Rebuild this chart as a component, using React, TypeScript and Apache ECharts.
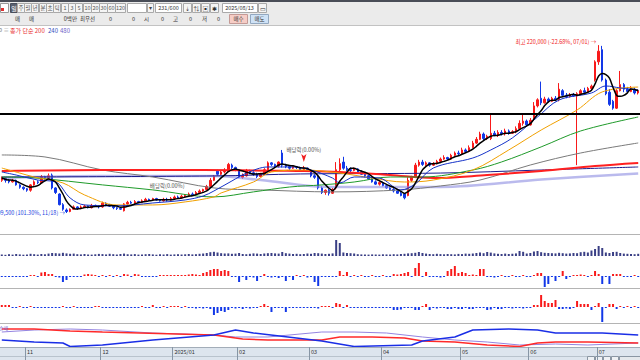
import React, { useEffect, useRef } from "react";
import * as echarts from "echarts";

const FONT = '"Noto Sans CJK KR", "Noto Sans", sans-serif';

// [open, close, low, high] in thousand won
const candles: number[][] = [
  [131,132.5,130,133.5],[132.5,131,129.5,133],[131,130,129,132],[130,131,129.5,132],[131,128,127.5,131.5],
  [128,126.5,125.5,128.5],[126.5,125.5,124.5,127],[125.5,124.5,123.5,126],[124.5,128,123.5,128.5],[128,130,127.5,131],
  [130,129.5,128.5,131],[129.5,133.5,129,134.5],[133.5,132.5,131.5,134],[132.5,134,132,135.5],[134.5,126,125,135.5],
  [126,123,122,126.5],[122,115,114.5,122.5],[115,112,111,116],[111.5,110.5,109.5,112.5],[110.5,112,110,112.5],
  [112,113.5,111.5,114.5],[113.5,112.5,111.5,114],[112.5,113.5,112,114.5],[113.5,114,113,115],[114,113,112.5,114.5],
  [113,114.5,112.5,115.5],[114.5,114,113.5,115],[114,113.5,112.5,114.5],[113.5,116,113,117],[116,115,114,116.5],
  [115,114,113.5,115.5],[114,113,112,114.5],[113,112.5,111.5,113.5],[112.5,112,111.5,113],[111,115.5,110.5,116],
  [115.5,116.5,115,117.5],[116.5,116,115.5,117.5],[116,117,115.5,118],[117,116.5,116,117.5],[116.5,117.5,116,118.5],
  [117.5,118.5,117,119.5],[118.5,118,117.5,119],[118,119,117.5,119.5],[119,118,117.5,119.5],[118,117.5,117,118.5],
  [117.5,118.5,117,119.5],[118.5,118,117,119.5],[118,119,117.5,120],[119,120,118.5,121],[120,119.5,119,121],
  [119.5,120.5,119,121.5],[120.5,121,119.5,122],[121,122,120.5,123],[122,121.5,121,123],[121.5,123,121,124],
  [123,124,122.5,125],[124,125,123.5,125.5],[125,127,124.5,128],[127,131,126.5,132.5],[131,133.5,130.5,134.5],
  [137,135,134,138],[135,136.5,134.5,137.5],[136.5,137,135.5,139],[137,141.5,136.5,142.5],[141,139.5,138.5,142],
  [139.5,138,137,140],[138,133,132.5,138.5],[133,134,132,135.5],[134,137.5,133.5,138.5],[137.5,136,135,138],
  [136,135,134,137],[135,133.5,132.5,136],[133.5,135,133,136],[135,138,134.5,139],[138,142.5,137.5,143.5],
  [142.5,141.5,140.5,143],[141.5,140.5,139.5,142],[140.5,143,139.5,143.5],[149,141,139.5,151],[141,140,139,142],
  [140,139,138,141],[139,140,138.5,141],[140,139.5,138.5,140.5],[139.5,138,137,140],[138,139,137.5,140.5],
  [139,137,136.5,139.5],[137,134,133,137.5],[134,133,132,135],[133,126,125,134],[126,123,122,127],
  [123,124.5,121.5,125],[124.5,122.5,121,125.5],[122.5,125,122,126],[126,138,125,143],[138,142,137,145.5],
  [143,139,138,146.5],[139,138,137,140.5],[138,137.5,136.5,139.5],[137.5,138.5,137,139.5],[138.5,136.5,136,139],
  [136.5,135,134.5,137.5],[135,134,133,136],[134,132,131.5,134.5],[132,130,129.5,132.5],[130,128.5,128,131],
  [128.5,129.5,127.5,130.5],[129.5,127.5,127,130],[127.5,126,125.5,128.5],[126,125,124.5,127],[125,124,123,126],
  [124,122.5,122,125],[122.5,121,120.5,123.5],[122,119.5,118.5,122.5],[121,131,120.5,133],[131,133,130,134],
  [133,141,132.5,142.5],[141,143,140,144.5],[143,141.5,140.5,144.5],[141.5,142.5,140.5,143.5],[142.5,141,140,143],
  [141,142,140.5,143],[142,143.5,141.5,144.5],[143.5,145,143,146],[145,146,144.5,147.5],[146,145,144,146.5],
  [145,147.5,144.5,148.5],[147.5,149,147,150],[149,148.5,147.5,150.5],[148.5,151,148,152.5],[151,150,149,152],
  [150,152.5,149.5,154],[152.5,155.5,152,157],[155.5,158,155,159.5],[158,161.5,157.5,163],[161.5,158.5,157.5,162.5],
  [158.5,160,157.5,161],[158.5,162,157.5,175],[162,160.5,160,163.5],[160.5,162.5,159.5,164],[162.5,161.5,160.5,164],
  [161.5,163.5,160.5,165],[163.5,162,161,164.5],[162,163,161.5,164],[163,165,162,166.5],[165,168.5,164.5,170.5],
  [168.5,170,167,174.5],[170,167.5,166.5,171],[167.5,170.5,167,172],[171,180,170.5,182.5],[180,184,179,185],
  [185,182,180.5,196],[182,184.5,181.5,186],[184.5,183,182,185.5],[183,185,182.5,186],[185,184,183,186.5],
  [184,191,183,195],[190,187,186,191],[187,186,185,188.5],[186,187.5,185.5,188.5],[187.5,186.5,186,188.5],
  [186.5,188,141,189],[188,190,187,191],[190,189,188,192],[189,191.5,188.5,192.5],[191.5,193,190.5,194],
  [197,209,196,210],[209,216,207,220],[217,197,196,219.5],[197,188,187,198],[189,181,180,191],
  [183,178.5,177.5,184],[178.5,190,178,191],[190,194,189.5,203],[194,191,189,195],[191,189.5,188.5,192.5],
  [189.5,191,189,193],[191,188.5,187.5,192],[188.5,190,187.5,191]
];

const volume: number[] = [
  15,12,18,14,20,16,13,15,22,18,14,20,17,24,
  30,28,25,32,26,22,24,
  18,16,20,15,14,17,21,19,16,22,18,15,20,24,17,16,19,14,15,18,20,16,13,17,15,19,14,16,18,15,17,20,16,18,22,25,
  30,38,42,35,28,25,
  26,22,24,30,20,18,22,26,24,20,25,28,30,26,24,
  40,
  28,24,20,22,18,20,25,22,30,28,24,20,22,26,
  160,130,35,30,28,25,
  18,16,15,14,16,15,14,17,16,15,18,16,20,22,
  26,28,32,40,30,24,
  20,18,22,19,17,20,18,16,21,19,24,22,25,
  30,36,28,40,34,26,
  22,20,24,20,22,26,
  50,42,25,30,45,50,38,32,
  30,28,26,32,28,24,26,30,28,
  38,42,35,
  55,70,100,80,35,30,40,42,30,24,22,20,18,22
];

const flowA: number[] = [
  -10,-10,-10,-10,-10,-10,-10,-10,10,10,
  -10,35,40,20,20,-10,-15,-60,-40,-10,
  -10,-10,-10,15,20,15,10,-10,10,-10,
  10,-10,10,-10,20,15,-10,20,15,-10,
  -10,-10,-10,-10,10,10,10,10,10,10,
  10,10,15,20,15,10,30,40,60,70,
  70,50,60,50,-10,-10,-60,-10,-40,-10,
  -15,-50,-10,20,-10,-15,-10,-20,-10,-50,
  -10,-40,10,-10,10,-15,-10,-60,-100,-10,
  -10,-10,-10,-10,50,10,40,-10,10,-10,
  10,-10,-10,10,-10,-10,10,-10,-10,20,
  15,20,30,40,-10,80,130,-10,40,-10,
  -10,-10,-15,-10,50,70,100,30,40,30,
  10,15,10,70,70,-10,-10,-15,-10,10,
  -10,-10,10,-10,-10,10,-10,-10,10,30,
  30,-110,-80,-10,-50,-10,50,-30,-10,10,
  10,15,10,-10,10,50,20,-80,-10,-80,
  20,20,20,-10,-10,-10,10,-10
];

const flowB: number[] = [
  20,20,20,-10,-10,10,-10,-10,10,-10,
  -10,-10,-10,-10,-10,-10,-10,10,-10,-10,
  10,-10,-10,-10,-10,-10,10,10,-10,-10,
  -10,-10,-10,-10,-10,-10,-10,-10,-10,10,
  -10,-10,20,-10,-10,10,-10,10,10,10,
  -10,10,-10,-10,-15,-10,-15,-10,-20,-80,
  -60,-40,-50,-30,-10,-15,-10,-20,-10,-15,
  -10,-10,10,30,10,-50,-10,-10,-10,-50,
  -10,-10,-10,-10,-10,-10,-10,-10,-15,10,
  10,10,-10,40,30,-10,20,-10,-10,-10,
  -10,-10,-10,-10,-10,-10,-10,-10,-10,-30,
  -30,-25,-10,-10,-10,-30,-30,10,30,-30,
  -10,-15,-10,-10,-20,-20,-10,-20,-20,-10,
  -20,-20,-10,-10,-10,-30,-25,-10,-20,-20,
  -10,-10,-15,-10,-10,-15,-10,-10,20,20,
  120,60,40,40,70,-20,-20,-15,-20,-10,
  60,30,30,30,-30,10,40,-150,-10,30,
  30,-20,10,-10,10,-10,10,-10
];

// moving-average lines: [bar index, price]
const ma20: number[][] = [[0,136.5],[4,134.5],[10,131.2],[15,129.9],[19,119.4],[23,114.8],[32,114.2],[42,116.1],[51,118.1],[56,120.7],[59,124],[64,130.6],[68,135.7],[74,139.8],[81,139.8],[86,137.8],[92,132.5],[94,129.3],[98,133.2],[105,132.5],[111,124.7],[115,128.6],[120,139.1],[131,145.7],[136,151],[142,158.9],[149,172.7],[155,183.9],[164,188.5],[168,193.1],[172,191.8],[177,190.5]];
const ma60: number[][] = [[0,139.1],[5,135.8],[9,133.2],[17,129.3],[23,121.4],[32,114.8],[42,114.8],[51,116.8],[59,120.1],[61,122.7],[70,129.9],[75,136.5],[84,137.8],[94,135.8],[103,132.5],[112,129.9],[120,131.2],[131,137.8],[141,151],[150,164.1],[160,177.3],[167,189.2],[177,192.4]];
const ma120: number[][] = [[0,133.2],[9,132.6],[28,128],[42,124.7],[59,120.1],[70,123.4],[80,126.6],[89,128],[98,129.9],[108,133.2],[117,133.2],[131,137.8],[139,143.1],[150,153],[161,163.5],[177,172.7]];
const maGrey: number[][] = [[0,147.7],[12,146.4],[28,137.8],[42,133.2],[59,126],[72,124.7],[92,123.4],[111,124.7],[122,127.3],[133,131.2],[147,141.1],[161,149],[177,155.6]];
const ma200: number[][] = [[0,137.1],[28,137.8],[56,137.8],[84,137.1],[94,136.5],[108,134.5],[120,132.5],[135,134.5],[150,137.1],[165,140.4],[177,142.4]];
const ma240: number[][] = [[0,133.2],[59,133.9],[83,135.2],[122,135.8],[150,137.8],[177,139.8]];
const ma480: number[][] = [[0,132.6],[28,133.9],[59,133.9],[72,131.2],[91,126.6],[122,126.6],[150,131.5],[177,135.5]];

// bottom oscillator panel: [bar index, value 0..100]
const oscRed: number[][] = [[0,75],[9,75],[19,66.7],[28,62.5],[59,50],[67,33.3],[74,29.2],[89,29.2],[94,41.7],[103,41.7],[112,37.5],[117,25],[126,20.8],[135,8.3],[144,2],[149,16.7],[154,20.8],[163,20.8],[177,16.7]];
const oscBlue: number[][] = [[0,29.2],[9,20.8],[17,16.7],[19,2],[28,8.3],[42,29.2],[59,50],[65,70.8],[70,58.3],[89,25],[98,2],[114,8.3],[117,25],[126,41.7],[131,70.8],[141,75],[149,70.8],[154,58.3],[167,58.3],[177,50]];
const oscPurple: number[][] = [[0,62.5],[9,70.8],[19,75],[28,70.8],[42,58.3],[59,50],[65,41.7],[74,41.7],[89,62.5],[98,62.5],[107,58.3],[117,41.7],[126,29.2],[135,20.8],[144,8.3],[154,12.5],[163,8.3],[177,16.7]];

const monthStarts = [7, 28, 48, 66, 86, 106, 128, 147, 166];
const monthLabels = ["11", "12", "2025/01", "02", "03", "04", "05", "06", "07"];

const highMark = { idx: 166, price: 220, text: "최고 220,000 (-22.68%, 07/01) →" };
const lowMark = { idx: 18, price: 109.5, text: "최저 109,500 (101.30%, 11/18) →" };
const dividendMarks = [
  { idx: 46, price: 124.7, text: "배당락(0.00%)", arrow: false },
  { idx: 84, price: 143.1, text: "배당락(0.00%)", arrow: true },
];
const refLevel = 175;

const UP = "#f81a1a";
const DOWN = "#1238e8";

function txt(x: number, y: number, text: string, fill: string, size = 6, align = "left") {
  return {
    type: "text", x, y, silent: true, z: 20,
    style: { text, fill, font: `${size}px ${FONT}`, align, verticalAlign: "middle" },
  };
}
function box(x: number, y: number, w: number, h: number, fill: string, stroke: string) {
  return {
    type: "rect", silent: true, z: 19,
    shape: { x: x + 0.5, y: y + 0.5, width: w, height: h },
    style: { fill, stroke, lineWidth: 1 },
  };
}
function hline(y: number, color: string, x1 = 0, x2 = 640) {
  return { type: "line", silent: true, z: 18, shape: { x1, y1: y, x2, y2: y }, style: { stroke: color, lineWidth: 1 } };
}

export default function App() {
  const ref = useRef<HTMLDivElement>(null);
  useEffect(() => {
    const chart = echarts.init(ref.current!, null, { renderer: "svg" });
    const cats = candles.map((_, i) => String(i));
    const closes = candles.map((c) => c[1]);
    const ma5 = closes.map((_, i) => {
      const s = closes.slice(Math.max(0, i - 4), i + 1);
      return +(s.reduce((a, b) => a + b, 0) / s.length).toFixed(2);
    });
    const labelMap: Record<number, string> = {};
    monthStarts.forEach((m, k) => (labelMap[m] = monthLabels[k]));
    const isMonth = (i: number) => monthStarts.includes(i);

    const grids = [
      { top: 36, height: 196 },
      { top: 236, height: 20 },
      { top: 258, height: 30 },
      { top: 288, height: 35 },
      { top: 323, height: 24 },
    ].map((g) => ({ left: 0, width: 643, ...g }));

    const xAxes = grids.map((_, i) => ({
      type: "category", gridIndex: i, data: cats, boundaryGap: true,
      show: i === 4, z: 25,
      axisLine: { show: i === 4, lineStyle: { color: "#a3adb8" } },
      axisTick: { show: i === 4, interval: (idx: number) => isMonth(idx), length: 13, lineStyle: { color: "#8796a6" } },
      axisLabel: {
        show: i === 4, interval: (idx: number) => isMonth(idx),
        formatter: (_v: string, idx: number) => labelMap[idx] ?? "",
        fontSize: 5.5, fontFamily: FONT, color: "#333", align: "left", margin: 2,
        hideOverlap: false,
      },
      splitLine: { show: false },
    }));
    const yRanges = [[97, 226], [0, 200], [-120, 180], [-160, 190], [0, 100]];
    const yAxes = yRanges.map((r, i) => ({
      type: "value", gridIndex: i, min: r[0], max: r[1], show: false, splitLine: { show: false },
    }));

    const line = (data: number[][] | number[], color: string, width: number, extra: any = {}) => ({
      type: "line", xAxisIndex: 0, yAxisIndex: 0, data, symbol: "none", smooth: 0.35,
      lineStyle: { color, width }, silent: true, ...extra,
    });
    const osc = (data: number[][], color: string, width: number) => ({
      type: "line", xAxisIndex: 4, yAxisIndex: 4, data, symbol: "none", smooth: false,
      lineStyle: { color, width }, silent: true,
    });
    const signColor = (p: any) => (p.value >= 0 ? UP : DOWN);

    const markData: any[] = [
      {
        coord: [highMark.idx, highMark.price], symbol: "circle", symbolSize: 1,
        itemStyle: { color: "rgba(0,0,0,0)" },
        label: { show: true, position: "left", distance: 2, offset: [0, -3], formatter: highMark.text, color: "#f02424", fontSize: 5.5, fontFamily: FONT },
      },
      {
        coord: [lowMark.idx, lowMark.price], symbol: "circle", symbolSize: 1,
        itemStyle: { color: "rgba(0,0,0,0)" },
        label: { show: true, position: "left", distance: 1, formatter: lowMark.text, color: "#2040e0", fontSize: 5.5, fontFamily: FONT },
      },
      ...dividendMarks.map((d) => ({
        coord: [d.idx, d.price],
        symbol: d.arrow ? "arrow" : "circle", symbolRotate: d.arrow ? 180 : 0,
        symbolSize: d.arrow ? [4, 8] : 1,
        itemStyle: { color: d.arrow ? "#f02020" : "rgba(0,0,0,0)" },
        label: { show: true, position: "top", distance: 1, formatter: d.text, color: "#555", fontSize: 5.5, fontFamily: FONT },
      })),
    ];

    const series: any[] = [
      line(ma480, "rgba(140,140,225,0.6)", 2.5),
      line(ma240, "#1c1c8c", 1),
      line(maGrey, "#7a7a7a", 1),
      line(ma200, "#ff2020", 2),
      line(ma120, "#1f9a2a", 1),
      line(ma60, "#f0a000", 1),
      {
        type: "candlestick", xAxisIndex: 0, yAxisIndex: 0, data: candles, barWidth: 2,
        itemStyle: { color: UP, color0: DOWN, borderColor: UP, borderColor0: DOWN, borderWidth: 1 },
        markLine: {
          symbol: "none", silent: true, label: { show: false },
          lineStyle: { color: "#000", width: 2, type: "solid" }, data: [{ yAxis: refLevel }],
        },
        markPoint: { silent: true, data: markData },
      },
      line(ma20, "#1532c8", 1),
      line(ma5.map((v, i) => [i, v]), "#000", 1.5, { smooth: 0.3 }),
      { type: "bar", xAxisIndex: 1, yAxisIndex: 1, data: volume, barWidth: 2, itemStyle: { color: "#3a3f85" }, silent: true },
      { type: "bar", xAxisIndex: 2, yAxisIndex: 2, data: flowA, barWidth: 2, itemStyle: { color: signColor }, silent: true },
      { type: "bar", xAxisIndex: 3, yAxisIndex: 3, data: flowB, barWidth: 2, itemStyle: { color: signColor }, silent: true },
      osc(oscPurple, "#9484e0", 1),
      osc(oscRed, "#ff2a2a", 1.5),
      osc(oscBlue, "#1a2ee6", 1.5),
    ];

    // toolbar / frame decorations
    const g: any[] = [];
    g.push({ type: "rect", silent: true, z: 1, shape: { x: 0, y: 347, width: 640, height: 13 }, style: { fill: "#dde5ee" } });
    g.push(hline(356.5, "#b9c3cd"));
    [587, 595, 603, 611].forEach((x) => g.push(box(x, 356, 7, 4, "#eef1f4", "#8a96a3")));
    g.push(box(619, 356, 24, 4, "#e4e8ec", "#8a96a3"));
    g.push(hline(234.5, "#b4b4b4"));
    g.push(hline(288.5, "#b4b4b4"));
    g.push(hline(323.5, "#b4b4b4"));
    g.push({ type: "rect", silent: true, z: 17, shape: { x: 0, y: 0, width: 640, height: 2 }, style: { fill: "#494d57" } });
    g.push({ type: "rect", silent: true, z: 17, shape: { x: 0, y: 2, width: 640, height: 23 }, style: { fill: "#ebebeb" } });
    g.push(hline(25.5, "#c2c2c2"));
    // row 1
    g.push(box(0, 3, 8, 9, "#fff", "#999"));
    g.push({ type: "rect", silent: true, z: 20, shape: { x: 1, y: 8, width: 3, height: 3 }, style: { fill: "#e03030" } });
    const row1: [number, number, string][] = [
      [17, 7, "주"], [24, 7, "월"], [31, 7, "년"], [39, 7, "분"], [46, 7, "초"], [53, 7, "틱"],
      [61, 7, "1"], [68, 7, "3"], [75, 7, "5"], [83, 8, "10"], [91, 8, "20"], [99, 8, "30"], [107, 8, "60"], [115, 10, "120"],
    ];
    g.push(box(10, 3, 7, 9, "#5b6170", "#4a4f5c"));
    g.push(txt(14, 8, "일", "#fff", 6, "center"));
    row1.forEach(([x, w, s]) => {
      g.push(box(x, 3, w, 9, "#f5f5f5", "#a9a9a9"));
      g.push(txt(x + w / 2 + 0.5, 8, s, "#555", 5.5, "center"));
    });
    g.push(box(127, 3, 19, 9, "#fff", "#a9a9a9"));
    g.push(box(147, 3, 6, 9, "#f5f5f5", "#a9a9a9"));
    g.push(txt(150.5, 8, "▾", "#444", 5.5, "center"));
    g.push(box(155, 3, 26, 9, "#fff", "#a9a9a9"));
    g.push(txt(168.5, 8, "231/600", "#333", 5.5, "center"));
    [["183", "⇣"], ["192", "⇅"], ["201", "▣"], ["210", "✱"]].forEach(([x, s]) => {
      g.push(box(+x, 3, 8, 9, "#f5f5f5", "#a9a9a9"));
      g.push(txt(+x + 4.5, 8, s, "#333", 6, "center"));
    });
    g.push(box(222, 3, 35, 9, "#fff", "#a9a9a9"));
    g.push(txt(239.5, 8, "2025/08/13", "#333", 5.5, "center"));
    g.push(box(258, 3, 8, 9, "#f5f5f5", "#a9a9a9"));
    g.push(txt(262.5, 8, "▭", "#333", 6, "center"));
    // row 2
    const row2: [number, string, string][] = [
      [15, "매", "left"], [29, "매", "left"], [77, "0백만", "right"], [80, "최우선", "left"],
      [112, "0", "right"], [135, "0", "right"], [144, "시", "left"], [164, "0", "right"],
      [173, "고", "left"], [192, "0", "right"], [202, "저", "left"], [220, "0", "right"],
    ];
    row2.forEach(([x, s, a]) => g.push(txt(x, 19, s, "#333", 5.5, a)));
    g.push(box(229, 14, 18, 9, "#f6cdc6", "#c49a96"));
    g.push(txt(238.5, 19, "매수", "#333", 5.5, "center"));
    g.push(box(250, 14, 18, 9, "#cfe2f6", "#93a8c0"));
    g.push(txt(259.5, 19, "매도", "#333", 5.5, "center"));
    // legend row
    g.push(txt(-1, 30, "0", "#666", 5.5));
    g.push(txt(3.5, 30, "≡", "#888", 5.5));
    g.push(txt(10, 30, "종가 단순 200", "#e83030", 6));
    g.push(txt(48, 30, "240", "#2f4fc0", 6));
    g.push(txt(60, 30, "480", "#6e5fc8", 6));
    g.push(txt(-1, 327, "순매", "#7a5fd0", 5));

    chart.setOption({
      animation: false,
      backgroundColor: "#fff",
      grid: grids,
      xAxis: xAxes,
      yAxis: yAxes,
      series,
      graphic: { elements: g },
    });
    return () => chart.dispose();
  }, []);
  return <div ref={ref} style={{ position: "fixed", left: 0, top: 0, width: 640, height: 360, background: "#fff" }} />;
}
